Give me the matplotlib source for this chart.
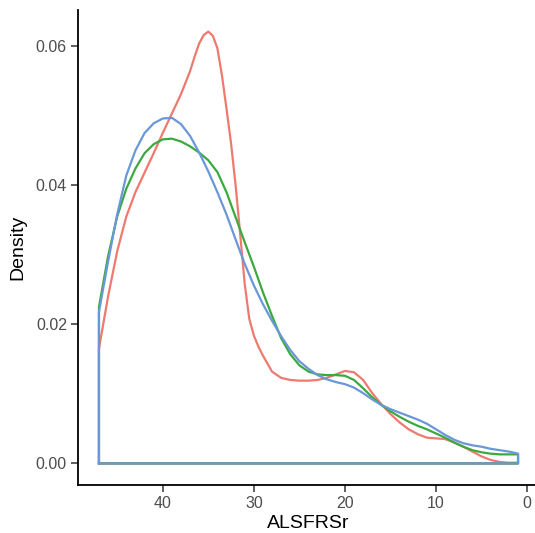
import matplotlib
matplotlib.use("Agg")
import matplotlib.pyplot as plt

# ALSFRSr grid (score) and densities
score = [47, 46, 45, 44, 43, 42, 41, 40, 39, 38, 37, 36, 35, 34, 33, 32, 31, 30,
         29, 28, 27, 26, 25, 24, 23, 22, 21, 20, 19, 18, 17, 16, 15, 14, 13, 12,
         11, 10, 9, 8, 7, 6, 5, 4, 3, 2, 1]

red_score = [47, 46, 45, 44, 43, 42, 41, 40, 39, 38, 37, 36.5, 36, 35.5, 35, 34.5,
             34, 33.5, 33, 32.5, 32, 31.5, 31, 30.5, 30, 29.5, 29, 28, 27, 26, 25,
             24, 23, 22, 21, 20, 19, 18, 17, 16, 15, 14, 13, 12, 11, 10, 9, 8, 7,
             6, 5, 4, 3, 2, 1]
red_density = [0.0165, 0.0240, 0.0305, 0.0355, 0.0390, 0.0418, 0.0446, 0.0475,
               0.0503, 0.0531, 0.0564, 0.0585, 0.0604, 0.0616, 0.0621, 0.0615,
               0.0597, 0.0558, 0.0510, 0.0460, 0.0400, 0.0330, 0.0258, 0.0208,
               0.0184, 0.0168, 0.0155, 0.0132, 0.0123, 0.0120, 0.0119, 0.0119,
               0.0120, 0.0123, 0.0128, 0.0133, 0.0131, 0.0120, 0.0101, 0.0085,
               0.0071, 0.0059, 0.0049, 0.0042, 0.0037, 0.0036, 0.0035, 0.0030,
               0.0024, 0.0017, 0.0010, 0.0005, 0.0002, 0.0001, 0.0001]

green_density = [0.0225, 0.0298, 0.0355, 0.0395, 0.0424, 0.0446, 0.0459, 0.0466,
                 0.0467, 0.0463, 0.0456, 0.0447, 0.0436, 0.0419, 0.0390, 0.0354,
                 0.0318, 0.0283, 0.0246, 0.0212, 0.0180, 0.0157, 0.0141, 0.0132,
                 0.0128, 0.0127, 0.0127, 0.0126, 0.0120, 0.0108, 0.0095, 0.0084,
                 0.0075, 0.0067, 0.0060, 0.0054, 0.0049, 0.0043, 0.0037, 0.0030,
                 0.0024, 0.0019, 0.0016, 0.0014, 0.0013, 0.0013, 0.0013]

blue_density = [0.0218, 0.0290, 0.0358, 0.0414, 0.0450, 0.0475, 0.0489, 0.0496,
                0.0497, 0.0488, 0.0471, 0.0447, 0.0420, 0.0390, 0.0358, 0.0322,
                0.0287, 0.0256, 0.0229, 0.0205, 0.0183, 0.0163, 0.0147, 0.0136,
                0.0127, 0.0121, 0.0117, 0.0114, 0.0109, 0.0101, 0.0092, 0.0084,
                0.0078, 0.0073, 0.0068, 0.0063, 0.0057, 0.0049, 0.0041, 0.0034,
                0.0029, 0.0026, 0.0024, 0.0021, 0.0019, 0.0017, 0.0014]

x_ticks = [40, 30, 20, 10, 0]
y_ticks = [0.00, 0.02, 0.04, 0.06]
y_tick_labels = ["0.00", "0.02", "0.04", "0.06"]

colors = {"red": "#EE7A6F", "green": "#3BA93F", "blue": "#6A97D8"}

plt.rcParams["font.family"] = ["Liberation Sans", "DejaVu Sans"]

fig = plt.figure(figsize=(5.35, 5.33), dpi=100)
ax = fig.add_axes([78 / 535, 48 / 533, 461 / 535, 475 / 533])


def closed(xs, ys):
    px = [xs[0]] + list(xs) + [xs[-1], xs[0]]
    py = [0.0] + list(ys) + [0.0, 0.0]
    return px, py


for xs, ys, c in [(red_score, red_density, colors["red"]),
                  (score, green_density, colors["green"]),
                  (score, blue_density, colors["blue"])]:
    px, py = closed(xs, ys)
    ax.plot(px, py, color=c, lw=1.6, solid_joinstyle="round", clip_on=False)

ymax = 0.0621
ax.set_xlim(47 + 46 * 0.05, 1 - 46 * 0.05)
ax.set_ylim(-ymax * 0.05, ymax * 1.05)

ax.set_xticks(x_ticks)
ax.set_xticklabels([str(v) for v in x_ticks])
ax.set_yticks(y_ticks)
ax.set_yticklabels(y_tick_labels)

for s in ["top", "right"]:
    ax.spines[s].set_visible(False)
for s in ["left", "bottom"]:
    ax.spines[s].set_linewidth(1.3)
    ax.spines[s].set_color("black")

ax.tick_params(axis="both", length=5, width=1.1, color="#333333",
               labelsize=11.5, labelcolor="#4D4D4D", pad=3)
ax.set_xlabel("ALSFRSr", fontsize=14, color="black", labelpad=3)
ax.set_ylabel("Density", fontsize=14, color="black", labelpad=7)

fig.savefig("out.png", dpi=100)
